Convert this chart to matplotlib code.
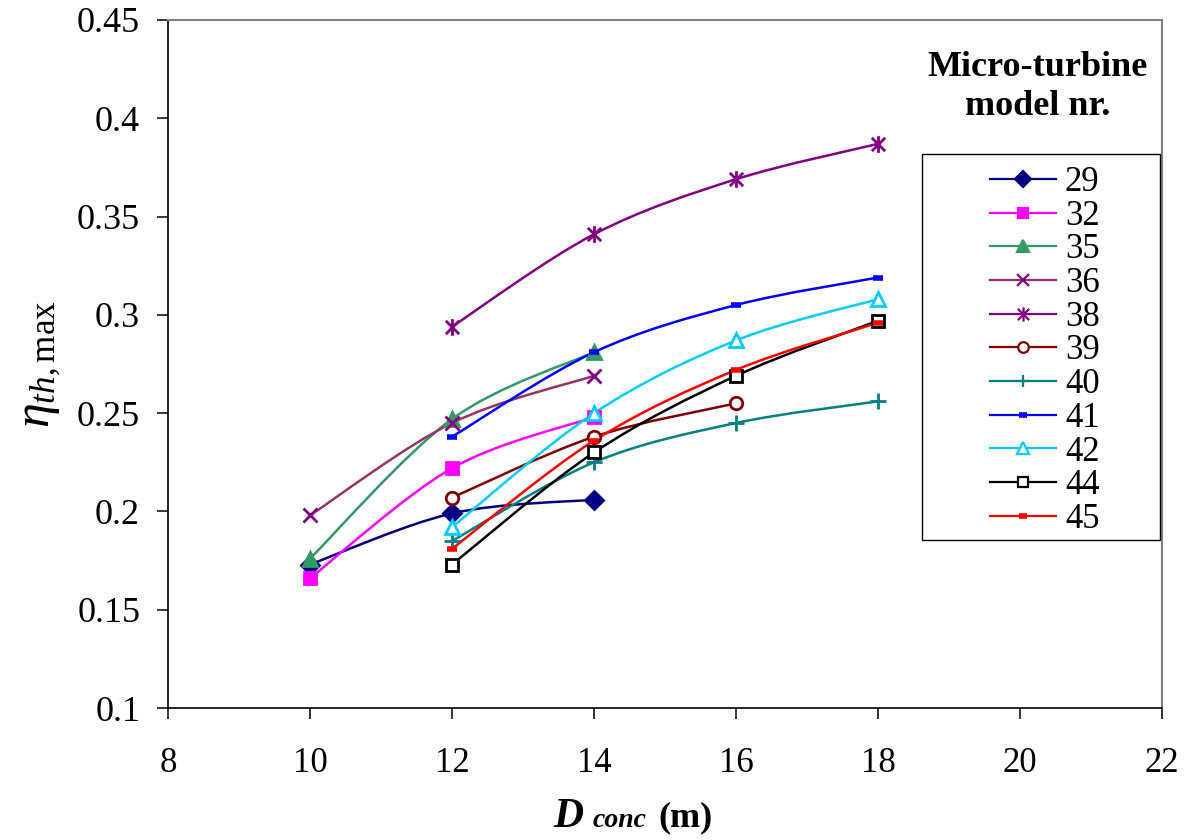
import numpy as np
import matplotlib
matplotlib.use('Agg')
import matplotlib.pyplot as plt
from matplotlib.path import Path
from matplotlib.patches import PathPatch, Rectangle
from matplotlib.lines import Line2D

plt.rcParams['font.family'] = ['Liberation Serif', 'DejaVu Serif']
plt.rcParams['mathtext.fontset'] = 'custom'
plt.rcParams['mathtext.rm'] = 'Liberation Serif'
plt.rcParams['mathtext.it'] = 'Liberation Serif:italic'
plt.rcParams['mathtext.bf'] = 'Liberation Serif:bold'

# data: model nr -> (D_conc, eta_th,max)
models = ['29', '32', '35', '36', '38', '39', '40', '41', '42', '44', '45']
d_29 = [10, 12, 14];      eta_29 = [0.173, 0.199, 0.206]
d_32 = [10, 12, 14];      eta_32 = [0.166, 0.222, 0.248]
d_35 = [10, 12, 14];      eta_35 = [0.176, 0.247, 0.281]
d_36 = [10, 12, 14];      eta_36 = [0.198, 0.245, 0.269]
d_38 = [12, 14, 16, 18];  eta_38 = [0.294, 0.341, 0.369, 0.387]
d_39 = [12, 14, 16];      eta_39 = [0.207, 0.238, 0.255]
d_40 = [12, 14, 16, 18];  eta_40 = [0.185, 0.225, 0.245, 0.256]
d_41 = [12, 14, 16, 18];  eta_41 = [0.238, 0.281, 0.305, 0.319]
d_42 = [12, 14, 16, 18];  eta_42 = [0.192, 0.250, 0.287, 0.308]
d_44 = [12, 14, 16, 18];  eta_44 = [0.173, 0.230, 0.269, 0.297]
d_45 = [12, 14, 16, 18];  eta_45 = [0.181, 0.236, 0.272, 0.296]

xs = [d_29, d_32, d_35, d_36, d_38, d_39, d_40, d_41, d_42, d_44, d_45]
ys = [eta_29, eta_32, eta_35, eta_36, eta_38, eta_39, eta_40, eta_41, eta_42, eta_44, eta_45]

# excel style asterisk: an x with a vertical stroke
star = Path([(-1, -1), (1, 1), (-1, 1), (1, -1), (0, -1.25), (0, 1.25)],
            [Path.MOVETO, Path.LINETO] * 3)

# style: line colour, marker, marker face, marker edge, size
styles = [
    ('#000080', 'D', '#000080', '#000080', 9),
    ('#FF00FF', 's', '#FF00FF', '#FF00FF', 9),
    ('#339966', '^', '#339966', '#339966', 10),
    ('#993366', 'x', 'none', '#800080', 10),
    ('#800080', star, 'none', '#800080', 12),
    ('#800000', 'o', 'white', '#800000', 9),
    ('#008080', '+', 'none', '#008080', 11),
    ('#0000FF', '_', 'none', '#0000FF', 7),
    ('#00CCFF', '^', 'white', '#00CCFF', 10),
    ('#000000', 's', 'white', '#000000', 9),
    ('#FF0000', '_', 'none', '#FF0000', 7),
]


def smooth_path(x, y):
    # Excel-like smoothed line: cubic bezier segments through the points
    p = np.column_stack([x, y]).astype(float)
    pts = np.vstack([p[0], p, p[-1]])
    verts = [tuple(p[0])]
    codes = [Path.MOVETO]
    for i in range(1, len(pts) - 2):
        p0, p1, p2, p3 = pts[i - 1], pts[i], pts[i + 1], pts[i + 2]
        c1 = p1 + (p2 - p0) / 6.0
        c2 = p2 - (p3 - p1) / 6.0
        verts += [tuple(c1), tuple(c2), tuple(p2)]
        codes += [Path.CURVE4] * 3
    return Path(verts, codes)


fig = plt.figure(figsize=(11.94, 8.4), dpi=100)
ax = fig.add_axes([0.1407, 0.1571, 0.8325, 0.8191])

handles = []
for name, x, y, (lc, mk, mfc, mec, ms) in zip(models, xs, ys, styles):
    ax.add_patch(PathPatch(smooth_path(x, y), fill=False, edgecolor=lc, lw=1.8, zorder=2))
    mew = 4 if (isinstance(mk, str) and mk == '_') else 2
    ax.plot(x, y, ls='none', marker=mk, ms=ms, mfc=mfc, mec=mec, mew=mew, zorder=3)
    handles.append(Line2D([], [], color=lc, lw=1.6, marker=mk, ms=ms * 0.85,
                          mfc=mfc, mec=mec, mew=mew if mew == 4 else 1.6, label=name))

ax.set_xlim(8, 22)
ax.set_ylim(0.1, 0.45)
ax.set_xticks(np.arange(8, 23, 2))
ax.set_yticks(np.arange(0.1, 0.451, 0.05))
ax.set_yticklabels(['0.1', '0.15', '0.2', '0.25', '0.3', '0.35', '0.4', '0.45'])
ax.tick_params(direction='out', length=8, width=1.1, labelsize=25)
ax.tick_params(axis='y', labelsize=26, pad=12)
ax.tick_params(axis='x', pad=20)
for s in ['top', 'right']:
    ax.spines[s].set_color('#808080')
    ax.spines[s].set_linewidth(1.5)
for s in ['left', 'bottom']:
    ax.spines[s].set_linewidth(1.2)

ax.set_ylabel(r'$\eta_{th,\mathrm{max}}$', fontsize=36, labelpad=10)

# x label: D conc (m)
fig.text(0.463, 0.016, 'D', fontsize=30, fontweight='bold', fontstyle='italic', ha='left', va='baseline')
fig.text(0.496, 0.016, 'conc', fontsize=20, fontweight='bold', fontstyle='italic', ha='left', va='baseline')
fig.text(0.551, 0.016, '(m)', fontsize=26, fontweight='bold', ha='left', va='baseline')

fig.text(0.869, 0.896, 'Micro-turbine\nmodel nr.', fontsize=26, fontweight='bold',
         ha='center', va='center', linespacing=1.25)

# legend frame
fig.add_artist(Rectangle((922 / 1194, 1 - 540 / 840), 238 / 1194, 386 / 840,
                         transform=fig.transFigure, fill=False, edgecolor='black', lw=1.0))
leg = fig.legend(handles=handles, loc='upper left', bbox_to_anchor=(990 / 1194, 1 - 166 / 840),
                 fontsize=25, frameon=False, handlelength=1.9, handletextpad=0.26,
                 labelspacing=0.02, borderpad=0, borderaxespad=0)

fig.savefig('out.png', dpi=100, facecolor='white')
